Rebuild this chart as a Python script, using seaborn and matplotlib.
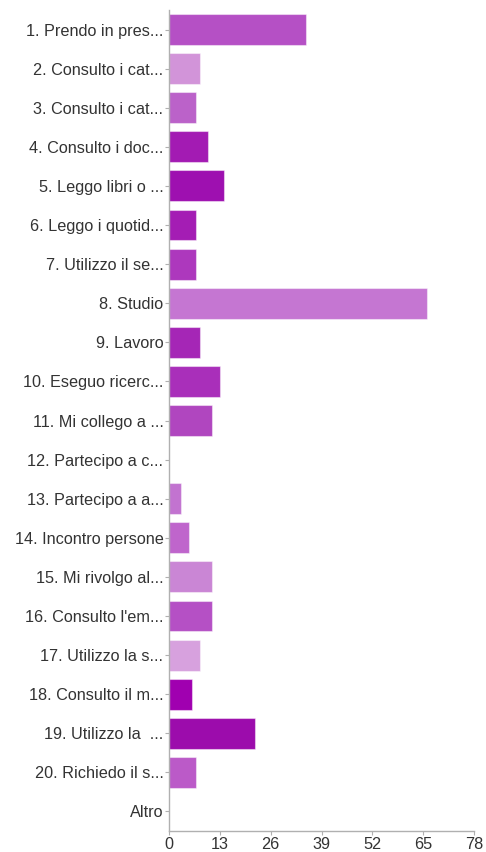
import matplotlib
matplotlib.use("Agg")
import matplotlib.pyplot as plt
import seaborn as sns
import pandas as pd

categories = [
    "1. Prendo in pres...", "2. Consulto i cat...", "3. Consulto i cat...",
    "4. Consulto i doc...", "5. Leggo libri o ...", "6. Leggo i quotid...",
    "7. Utilizzo il se...", "8. Studio", "9. Lavoro", "10. Eseguo ricerc...",
    "11. Mi collego a ...", "12. Partecipo a c...", "13. Partecipo a a...",
    "14. Incontro persone", "15. Mi rivolgo al...", "16. Consulto l'em...",
    "17. Utilizzo la s...", "18. Consulto il m...", "19. Utilizzo la  ...",
    "20. Richiedo il s...", "Altro",
]
values = [35, 8, 7, 10, 14, 7, 7, 66, 8, 13, 11, 0, 3, 5, 11, 11, 8, 6, 22, 7, 0]
colors = [
    "#b550c5", "#d294d9", "#bb62c9", "#a31bb3", "#9e10b0", "#a41db4",
    "#ad38bd", "#c576d2", "#a526b6", "#a92fba", "#b046bf", "#b046bf",
    "#c273d0", "#bf65cc", "#ca86d5", "#b550c5", "#d7a1de", "#a000b0",
    "#9c0cac", "#bb5ac8", "#bb5ac8",
]
xticks = [0, 13, 26, 39, 52, 65, 78]

sns.set_style("white")
plt.rcParams["font.family"] = ["Liberation Sans", "DejaVu Sans"]

df = pd.DataFrame({"cat": categories, "val": values})

fig = plt.figure(figsize=(4.86, 8.52), dpi=100)
ax = fig.add_axes([169 / 486, 1 - 831 / 852, (474 - 169) / 486, (831 - 10) / 852])

sns.barplot(data=df, x="val", y="cat", hue="cat", palette=colors, legend=False,
            orient="h", width=0.79, ax=ax, saturation=1,
            edgecolor=(1, 1, 1, 0.45), linewidth=0.8)

ax.set_xlim(0, 78)
ax.set_ylim(20.5, -0.5)
ax.set_xticks(xticks)
ax.set_xticklabels([str(t) for t in xticks])
ax.set_xlabel("")
ax.set_ylabel("")

for s in ["top", "right"]:
    ax.spines[s].set_visible(False)
for s in ["left", "bottom"]:
    ax.spines[s].set_color("#b0b0b0")
    ax.spines[s].set_linewidth(1.0)

ax.tick_params(axis="both", which="both", length=3, width=0.8, color="#b0b0b0",
               labelsize=11.7, labelcolor="#333333", pad=1)
ax.tick_params(axis="y", left=True)
ax.tick_params(axis="x", bottom=True, pad=1)
ax.grid(False)

fig.savefig("out.png", dpi=100)
